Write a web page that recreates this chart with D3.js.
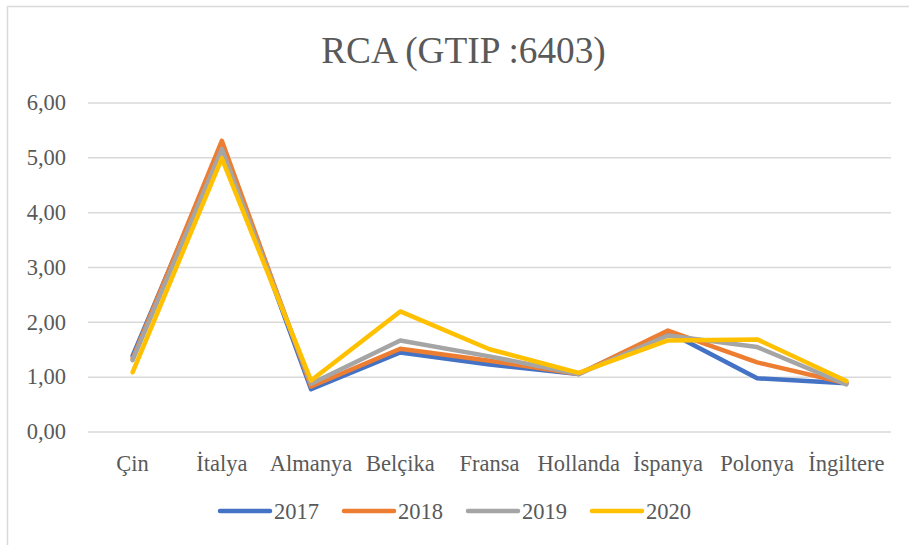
<!DOCTYPE html>
<html>
<head>
<meta charset="utf-8">
<script src="https://cdn.jsdelivr.net/npm/d3@7"></script>
<style>
  html, body { margin: 0; padding: 0; background: #fff; }
  svg { display: block; }
</style>
</head>
<body>
<svg id="chart" width="909" height="545"></svg>
<script>
const categories = ["Çin", "İtalya", "Almanya", "Belçika", "Fransa", "Hollanda", "İspanya", "Polonya", "İngiltere"];
const years = ["2017", "2018", "2019", "2020"];
const values2017 = [1.38, 5.22, 0.77, 1.44, 1.22, 1.05, 1.82, 0.97, 0.88];
const values2018 = [1.33, 5.30, 0.82, 1.51, 1.29, 1.05, 1.84, 1.26, 0.88];
const values2019 = [1.30, 5.15, 0.87, 1.66, 1.37, 1.05, 1.75, 1.54, 0.86];
const values2020 = [1.08, 4.98, 0.93, 2.19, 1.50, 1.07, 1.66, 1.68, 0.92];
const yTicks = [0, 1, 2, 3, 4, 5, 6];
const colors = ["#4472C4", "#ED7D31", "#A5A5A5", "#FFC000"];

const width = 909;
const height = 545;
const plot = { left: 88, right: 891, top: 102.5, bottom: 431.5 };
const FONT = "'Liberation Serif', 'Times New Roman', 'DejaVu Serif', serif";
const labelSize = "22.5px";

const series = years.map((year, i) => ({
  year,
  color: colors[i],
  values: [values2017, values2018, values2019, values2020][i]
}));

const svg = d3.select("#chart");

// chart frame
svg.append("rect")
  .attr("x", 7.5).attr("y", 6.5)
  .attr("width", width + 20).attr("height", height + 20)
  .attr("fill", "#fff")
  .attr("stroke", "#D9D9D9")
  .attr("stroke-width", 1.5);

const x = d3.scaleBand()
  .domain(categories)
  .range([plot.left, plot.right]);

const y = d3.scaleLinear()
  .domain([0, 6])
  .range([plot.bottom, plot.top]);

// title
svg.append("text")
  .attr("x", 463.5)
  .attr("y", 63)
  .attr("text-anchor", "middle")
  .attr("fill", "#595959")
  .style("font-family", FONT)
  .style("font-size", "37.3px")
  .text("RCA (GTIP :6403)");

// gridlines + y labels
const yAxis = d3.axisLeft(y)
  .tickValues(yTicks)
  .tickSize(-(plot.right - plot.left))
  .tickPadding(22)
  .tickFormat(d => d3.format(".2f")(d).replace(".", ","));

svg.append("g")
  .attr("transform", `translate(${plot.left},0)`)
  .call(yAxis)
  .attr("font-family", null)
  .call(g => g.select(".domain").remove())
  .call(g => g.selectAll("line").attr("stroke", "#D9D9D9").attr("stroke-width", 1.5))
  .call(g => g.selectAll("text")
    .style("font-family", FONT)
    .style("font-size", labelSize)
    .attr("fill", "#595959"));

// category labels
const xAxis = d3.axisBottom(x).tickSize(0).tickPadding(24);
svg.append("g")
  .attr("transform", `translate(0,${plot.bottom})`)
  .call(xAxis)
  .attr("font-family", null)
  .call(g => g.select(".domain").remove())
  .call(g => g.selectAll("text")
    .style("font-family", FONT)
    .style("font-size", labelSize)
    .attr("fill", "#595959"));

// lines
const line = d3.line()
  .x((d, i) => x(categories[i]) + x.bandwidth() / 2)
  .y(d => y(d));

svg.append("g")
  .selectAll("path")
  .data(series)
  .join("path")
  .attr("d", d => line(d.values))
  .attr("fill", "none")
  .attr("stroke", d => d.color)
  .attr("stroke-width", 4.5)
  .attr("stroke-linejoin", "round")
  .attr("stroke-linecap", "round");

// legend
const legend = svg.append("g").attr("transform", "translate(218,511)");
const item = legend.selectAll("g")
  .data(series)
  .join("g")
  .attr("transform", (d, i) => `translate(${i * 124},0)`);

item.append("line")
  .attr("x1", 2).attr("x2", 52)
  .attr("stroke", d => d.color)
  .attr("stroke-width", 4.5)
  .attr("stroke-linecap", "round");

item.append("text")
  .attr("x", 56)
  .attr("y", 8)
  .attr("fill", "#595959")
  .style("font-family", FONT)
  .style("font-size", labelSize)
  .text(d => d.year);
</script>
</body>
</html>
